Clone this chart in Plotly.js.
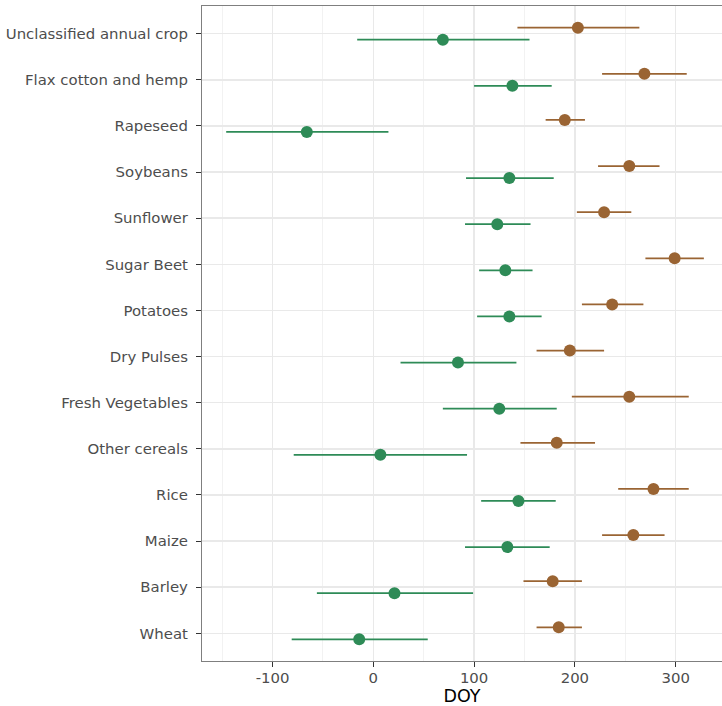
<!DOCTYPE html>
<html><head><meta charset="utf-8">
<script src="https://cdn.plot.ly/plotly-3.0.1.min.js"></script>
<style>html,body{margin:0;padding:0;background:#fff}</style>
</head><body><div id="chart" style="width:722px;height:706px"></div>
<script>
var crops = ["Wheat","Barley","Maize","Rice","Other cereals","Fresh Vegetables","Dry Pulses","Potatoes","Sugar Beet","Sunflower","Soybeans","Rapeseed","Flax cotton and hemp","Unclassified annual crop"];
// brown series (later DOY)
var brownMean = [184, 178, 258, 278, 182, 254, 195, 237, 299, 229, 254, 190, 269, 203];
var brownLow  = [162, 149, 227, 243, 146, 197, 162, 207, 270, 202, 223, 171, 227, 143];
var brownHigh = [207, 207, 289, 313, 220, 313, 229, 268, 328, 256, 284, 210, 311, 264];
// green series (earlier DOY)
var greenMean = [-14, 21, 133, 144, 7, 125, 84, 135, 131, 123, 135, -66, 138, 69];
var greenLow  = [-81, -56, 91, 107, -79, 69, 27, 103, 105, 91, 92, -146, 100, -16];
var greenHigh = [54, 99, 175, 181, 93, 182, 142, 167, 158, 156, 179, 15, 177, 155];
var xTickVals = [-100, 0, 100, 200, 300];
var xTickText = ["-100", "0", "100", "200", "300"];

var idx = crops.map(function(_, i){ return i + 1; });
var dodge = 0.13;
function plus(m, h){ return m.map(function(v,i){ return h[i]-v; }); }
function minus(m, l){ return m.map(function(v,i){ return v-l[i]; }); }

var brown = "#9a6433", green = "#2e8b57";
var traces = [
  {type:"scatter", mode:"markers", x:brownMean, y:idx.map(function(v){return v+dodge;}),
   marker:{color:brown, size:12},
   error_x:{type:"data", symmetric:false, array:plus(brownMean,brownHigh), arrayminus:minus(brownMean,brownLow), width:0, thickness:1.7, color:brown},
   showlegend:false, hoverinfo:"x"},
  {type:"scatter", mode:"markers", x:greenMean, y:idx.map(function(v){return v-dodge;}),
   marker:{color:green, size:12},
   error_x:{type:"data", symmetric:false, array:plus(greenMean,greenHigh), arrayminus:minus(greenMean,greenLow), width:0, thickness:1.7, color:green},
   showlegend:false, hoverinfo:"x"}
];

var layout = {
  width:722, height:706,
  margin:{l:202, r:0, t:6, b:45},
  paper_bgcolor:"#fff", plot_bgcolor:"#fff",
  font:{family:"DejaVu Sans, sans-serif", color:"#4d4d4d", size:14.9},
  xaxis:{range:[-170, 346], tickvals:xTickVals, ticktext:xTickText,
    showgrid:true, gridcolor:"#e9e9e9", gridwidth:1.6,
    minor:{dtick:50, tick0:0, showgrid:true, gridcolor:"#efefef", gridwidth:0.8, ticks:""},
    zeroline:false, showline:true, mirror:true, linecolor:"#7f7f7f", linewidth:1.1,
    ticks:"outside", ticklen:5, tickcolor:"#333", tickwidth:1.1, ticklabelstandoff:-2,
    tickfont:{size:14.9, color:"#4d4d4d"},
    title:{text:"DOY", font:{size:17.5, color:"#000"}, standoff:9}},
  yaxis:{range:[0.4, 14.6], tickvals:idx, ticktext:crops,
    showgrid:true, gridcolor:"#e9e9e9", gridwidth:1.6,
    zeroline:false, showline:true, linecolor:"#7f7f7f", linewidth:1.1,
    ticks:"outside", ticklen:5, tickcolor:"#333", tickwidth:1.1, ticklabelstandoff:5,
    tickfont:{size:14.9, color:"#4d4d4d"}}
};
Plotly.newPlot("chart", traces, layout, {displayModeBar:false, staticPlot:true});
</script></body></html>
